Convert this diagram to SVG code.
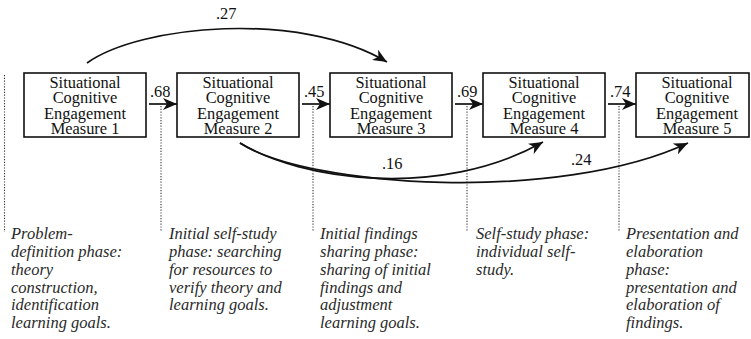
<svg xmlns="http://www.w3.org/2000/svg" width="751" height="339" viewBox="0 0 751 339">
<style>
.box{fill:#fff;stroke:#111;stroke-width:1.6}
.bt{font-size:16.4px;fill:#111;text-anchor:middle}
.lbl{font-size:16.4px;fill:#111}
.ph{font-size:16.5px;font-style:italic;fill:#2a2a2a}
.dot{stroke:#333;stroke-width:1.1;stroke-dasharray:1.2 1.6;fill:none}
.arr{stroke:#111;stroke-width:1.7;fill:none;marker-end:url(#ah)}
</style>
<defs>
<marker id="ah" markerUnits="userSpaceOnUse" markerWidth="16" markerHeight="12" refX="14" refY="6" orient="auto">
<path d="M0,0 L14,6 L0,12 L4,6 z" fill="#111"/>
</marker>
</defs>
<g id="guides">
<line class="dot" x1="4.5" y1="75" x2="4.5" y2="232"/>
<line class="dot" x1="161" y1="106" x2="161" y2="232"/>
<line class="dot" x1="313" y1="106" x2="313" y2="232"/>
<line class="dot" x1="467" y1="106" x2="467" y2="232"/>
<line class="dot" x1="619" y1="106" x2="619" y2="232"/>
</g>
<g font-family="Liberation Serif, Times New Roman, serif">
<g id="m1"><rect class="box" x="24" y="73" width="122" height="64"/>
<text class="bt"><tspan x="85" y="88">Situational</tspan><tspan x="85" y="103.3">Cognitive</tspan><tspan x="85" y="118.6">Engagement</tspan><tspan x="85" y="133.9">Measure 1</tspan></text></g>
<g id="m2"><rect class="box" x="177" y="73" width="122" height="64"/>
<text class="bt"><tspan x="238" y="88">Situational</tspan><tspan x="238" y="103.3">Cognitive</tspan><tspan x="238" y="118.6">Engagement</tspan><tspan x="238" y="133.9">Measure 2</tspan></text></g>
<g id="m3"><rect class="box" x="330" y="73" width="122" height="64"/>
<text class="bt"><tspan x="391" y="88">Situational</tspan><tspan x="391" y="103.3">Cognitive</tspan><tspan x="391" y="118.6">Engagement</tspan><tspan x="391" y="133.9">Measure 3</tspan></text></g>
<g id="m4"><rect class="box" x="483" y="73" width="122" height="64"/>
<text class="bt"><tspan x="544" y="88">Situational</tspan><tspan x="544" y="103.3">Cognitive</tspan><tspan x="544" y="118.6">Engagement</tspan><tspan x="544" y="133.9">Measure 4</tspan></text></g>
<g id="m5"><rect class="box" x="636" y="73" width="113" height="64"/>
<text class="bt"><tspan x="697" y="88">Situational</tspan><tspan x="697" y="103.3">Cognitive</tspan><tspan x="697" y="118.6">Engagement</tspan><tspan x="697" y="133.9">Measure 5</tspan></text></g>
<g id="connectors">
<line class="arr" x1="149" y1="104" x2="177" y2="104"/>
<line class="arr" x1="302" y1="104" x2="330" y2="104"/>
<line class="arr" x1="455" y1="104" x2="483" y2="104"/>
<line class="arr" x1="608" y1="104" x2="636" y2="104"/>
<path class="arr" d="M87,63 C140,25 300,10 387,62"/>
<path class="arr" d="M240,143 C300,180 440,200 543,142"/>
<path class="arr" d="M240,143 C310,188 560,203 688,143"/>
<text class="lbl" x="150" y="97">.68</text>
<text class="lbl" x="304" y="97">.45</text>
<text class="lbl" x="457" y="97">.69</text>
<text class="lbl" x="610" y="97">.74</text>
<text class="lbl" x="216" y="19">.27</text>
<text class="lbl" x="382" y="169">.16</text>
<text class="lbl" x="571" y="165">.24</text>
</g>
<g id="phases">
<text class="ph"><tspan x="11" y="239">Problem-</tspan><tspan x="11" y="257">definition phase:</tspan><tspan x="11" y="275">theory</tspan><tspan x="11" y="292.5">construction,</tspan><tspan x="11" y="310">identification</tspan><tspan x="11" y="328">learning goals.</tspan></text>
<text class="ph"><tspan x="169" y="239">Initial self-study</tspan><tspan x="169" y="257">phase: searching</tspan><tspan x="169" y="275">for resources to</tspan><tspan x="169" y="292.5">verify theory and</tspan><tspan x="169" y="310">learning goals.</tspan></text>
<text class="ph"><tspan x="320" y="239">Initial findings</tspan><tspan x="320" y="257">sharing phase:</tspan><tspan x="320" y="275">sharing of initial</tspan><tspan x="320" y="292.5">findings and</tspan><tspan x="320" y="310">adjustment</tspan><tspan x="320" y="328">learning goals.</tspan></text>
<text class="ph"><tspan x="476" y="239">Self-study phase:</tspan><tspan x="476" y="257">individual self-</tspan><tspan x="476" y="275">study.</tspan></text>
<text class="ph"><tspan x="626" y="239">Presentation and</tspan><tspan x="626" y="257">elaboration</tspan><tspan x="626" y="275">phase:</tspan><tspan x="626" y="292.5">presentation and</tspan><tspan x="626" y="310">elaboration of</tspan><tspan x="626" y="328">findings.</tspan></text>
</g>
</g>
</svg>
